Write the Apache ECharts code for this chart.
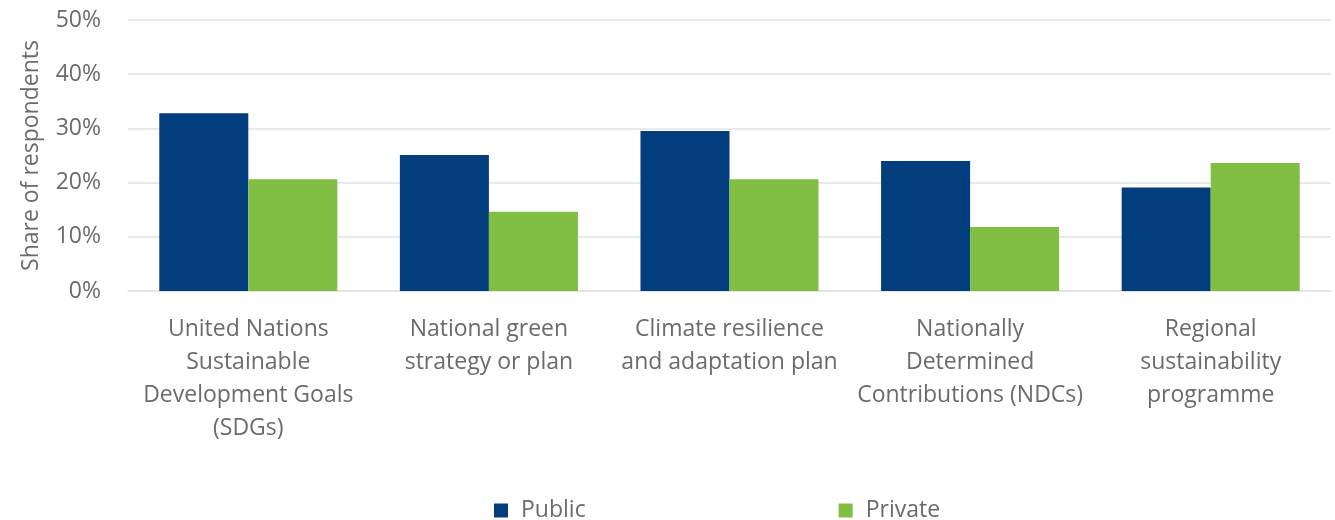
<!DOCTYPE html>
<html>
<head>
<meta charset="utf-8">
<script src="https://cdn.jsdelivr.net/npm/echarts@6/dist/echarts.min.js"></script>
<style>
  html, body { margin: 0; padding: 0; background: #ffffff; }
  #chart { width: 1335px; height: 520px; }
</style>
</head>
<body>
<div id="chart"></div>
<script>
// Frameworks referenced by respondents, split by sector (share, %)
const categories = [
  'United Nations\nSustainable\nDevelopment Goals\n(SDGs)',
  'National green\nstrategy or plan',
  'Climate resilience\nand adaptation plan',
  'Nationally\nDetermined\nContributions (NDCs)',
  'Regional\nsustainability\nprogramme'
];
const publicValues = [32.8, 25.1, 29.5, 24.0, 19.1];
const privateValues = [20.6, 14.6, 20.6, 11.8, 23.6];
const seriesNames = ['Public', 'Private'];
const axisTitle = 'Share of respondents';

const FONT = '"Open Sans", "Noto Sans", sans-serif';
const TEXT = '#6b6b6b';

const chart = echarts.init(document.getElementById('chart'), null, { renderer: 'canvas' });
chart.setOption({
  animation: false,
  textStyle: { fontFamily: FONT },
  grid: { left: 128, right: 4, top: 20, bottom: 229, containLabel: false },
  legend: {
    data: seriesNames,
    top: 494,
    left: 489,
    itemWidth: 14,
    itemHeight: 14,
    itemGap: 253,
    icon: 'rect',
    textStyle: { fontFamily: FONT, fontSize: 23, color: TEXT, padding: [0, 0, 0, 8] }
  },
  xAxis: {
    type: 'category',
    data: categories,
    axisLine: { show: true, lineStyle: { color: '#e3e3e3', width: 1.5 } },
    axisTick: { show: false },
    axisLabel: {
      interval: 0,
      margin: 22,
      fontFamily: FONT,
      fontSize: 23,
      lineHeight: 33,
      color: TEXT,
      align: 'center'
    }
  },
  yAxis: {
    type: 'value',
    min: 0,
    max: 50,
    interval: 10,
    name: axisTitle,
    nameLocation: 'middle',
    nameGap: 85,
    nameTextStyle: { fontFamily: FONT, fontSize: 23, color: TEXT },
    axisLine: { show: false },
    axisTick: { show: false },
    axisLabel: {
      formatter: '{value}%',
      margin: 27,
      fontFamily: FONT,
      fontSize: 23,
      color: TEXT
    },
    splitLine: { lineStyle: { color: '#e3e3e3', width: 1.5 } }
  },
  series: [
    {
      name: seriesNames[0],
      type: 'bar',
      data: publicValues,
      barGap: '0%',
      barCategoryGap: '26%',
      itemStyle: { color: '#023e7d' }
    },
    {
      name: seriesNames[1],
      type: 'bar',
      data: privateValues,
      barGap: '0%',
      barCategoryGap: '26%',
      itemStyle: { color: '#80bf43' }
    }
  ]
});
</script>
</body>
</html>
